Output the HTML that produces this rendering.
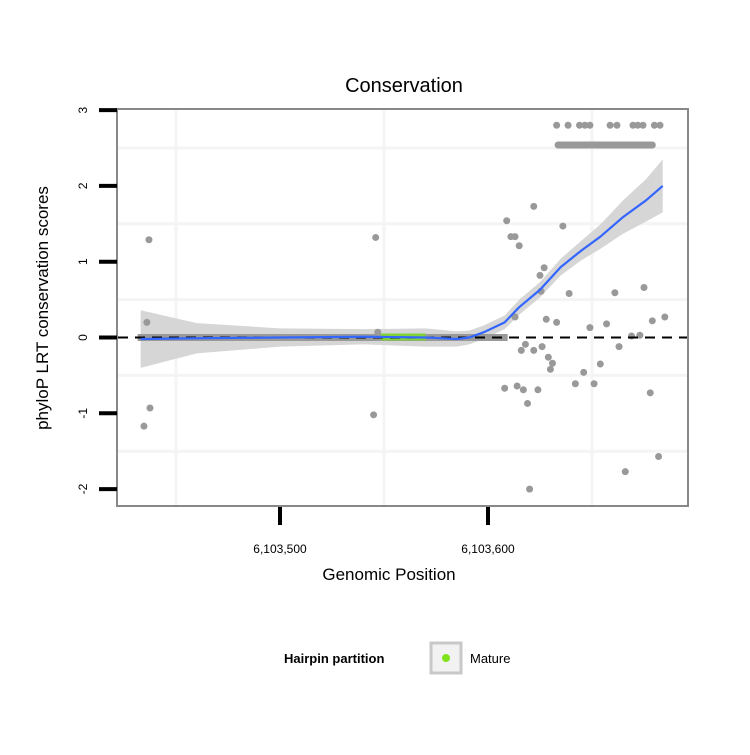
<!DOCTYPE html>
<html><head><meta charset="utf-8"><style>
body{margin:0;background:#fff;}
svg text{font-family:"Liberation Sans",sans-serif;}
</style></head><body>
<svg id="chart" width="750" height="750" xmlns="http://www.w3.org/2000/svg">
<rect width="750" height="750" fill="#fff"/>
<g id="grid"></g>
<g id="ribbon"></g>
<g id="pts"></g>
<g id="line"></g>
<rect x="117" y="109" width="571" height="397" fill="none" stroke="#888" stroke-width="2"/>
<g id="axes"></g>
<text x="404" y="92" font-size="20" text-anchor="middle">Conservation</text>
<text x="389" y="580" font-size="17" text-anchor="middle">Genomic Position</text>
<text transform="translate(48,308) rotate(-90)" font-size="17" text-anchor="middle">phyloP LRT conservation scores</text>
<g>
<text x="284" y="663" font-size="13" font-weight="bold">Hairpin partition</text>
<rect x="431" y="643" width="30" height="30" fill="#f2f2f2" stroke="#c8c8c8" stroke-width="3"/>
<circle cx="446" cy="658" r="4" fill="#7fe31a"/>
<text x="470" y="663" font-size="13">Mature</text>
</g>
</svg>
<script>
const X0=6103500;
const xTicks=[6103500,6103600];
const xTickLabels=["6,103,500","6,103,600"];
const yTicks=[-2,-1,0,1,2,3];
const ptX=[6103437,6103436,6103434,6103437.5,6103434.6,6103546,6103545,6103547,
6103622,6103609,6103611,6103613,6103615,6103636,6103627,6103625,6103625.5,6103639,6103661,6103675,6103613,6103628,6103633,6103649,6103657,6103679,6103685,6103669,6103673,6103618,6103616,6103622,6103626,6103663,6103629,6103631,6103630,6103654,6103646,6103608,6103614,6103617,6103624,6103642,6103651,6103678,6103619,6103682,6103666,6103620];
const ptY=[1.29,0.2,0.0,-0.93,-1.17,1.32,-1.02,0.07,
1.73,1.54,1.33,1.33,1.21,1.47,0.92,0.82,0.61,0.58,0.59,0.66,0.27,0.24,0.20,0.13,0.18,0.22,0.27,0.02,0.03,-0.09,-0.17,-0.17,-0.12,-0.12,-0.26,-0.34,-0.42,-0.35,-0.46,-0.67,-0.64,-0.69,-0.69,-0.61,-0.61,-0.73,-0.87,-1.57,-1.77,-2.0];
const topX=[6103633,6103638.5,6103644,6103646.6,6103649,6103658.7,6103662,6103669.7,6103672,6103674.5,6103680,6103682.7];
const row2X=[6103633.7,6103679];
const zeroX=[6103433,6103608];
const matureX=[6103548.5,6103570];
const fitX=[6103433,6103460,6103500,6103540,6103570,6103585,6103591,6103598,6103608,6103615,6103625,6103635,6103645,6103654,6103665,6103676,6103684];
const fitY=[-0.02,-0.01,0.0,0.01,0.0,-0.02,0.0,0.07,0.2,0.4,0.63,0.93,1.15,1.33,1.59,1.81,2.0];
const fitSE=[0.38,0.2,0.12,0.1,0.12,0.1,0.09,0.09,0.09,0.1,0.1,0.11,0.13,0.16,0.22,0.28,0.35];
const sx=v=>280+(v-X0)*2.08;
const sy=v=>337.5-v*75.8;
const NS="http://www.w3.org/2000/svg";
function mk(t,p,a){const e=document.createElementNS(NS,t);for(const k in a)e.setAttribute(k,a[k]);p.appendChild(e);return e;}
const g=document.getElementById('grid');
[2.5,1.5,0.5,-0.5,-1.5].forEach(v=>{const l=mk('line',g,{x1:118,x2:687,y1:sy(v),y2:sy(v),stroke:'#f4f4f4','stroke-width':3});

});
[6103450,6103550,6103650].forEach(v=>{const l=mk('line',g,{x1:sx(v),x2:sx(v),y1:110,y2:505,stroke:'#f4f4f4','stroke-width':3});

});
const rb=document.getElementById('ribbon');
let d='M'+fitX.map((x,i)=>sx(x)+','+sy(fitY[i]+fitSE[i])).join('L');
d+='L'+fitX.slice().reverse().map((x,j)=>{const i=fitX.length-1-j;return sx(x)+','+sy(fitY[i]-fitSE[i]);}).join('L')+'Z';
const rp=mk('path',rb,{d:d,fill:'#d6d6d6'});


const P=document.getElementById('pts');
const zb=mk('rect',P,{x:sx(zeroX[0])-3,y:sy(0)-3.5,width:sx(zeroX[1])-sx(zeroX[0])+6,height:7,fill:'#999'});


const mb=mk('rect',P,{x:sx(matureX[0]),y:sy(0)-4,width:sx(matureX[1])-sx(matureX[0]),height:7,fill:'#7fd13b'});


ptX.forEach((x,i)=>{const c=mk('circle',P,{cx:sx(x),cy:sy(ptY[i]),r:3.5,fill:'#999'});

});
topX.forEach(x=>{const c=mk('circle',P,{cx:sx(x),cy:sy(2.8),r:3.5,fill:'#999'});

});
const r2=mk('rect',P,{x:sx(row2X[0])-3.5,y:sy(2.54)-3.5,width:sx(row2X[1])-sx(row2X[0])+7,height:7,rx:3.5,fill:'#999'});


const L=document.getElementById('line');
const dl=mk('line',L,{x1:118,x2:687,y1:sy(0),y2:sy(0),stroke:'#000','stroke-width':2,'stroke-dasharray':'10,7'});


const fl=mk('path',L,{d:'M'+fitX.map((x,i)=>sx(x)+','+sy(fitY[i])).join('L'),fill:'none',stroke:'#3366ff','stroke-width':2.2,'stroke-linejoin':'round'});


const A=document.getElementById('axes');
yTicks.forEach(v=>{const t=mk('line',A,{x1:99,x2:117,y1:sy(v),y2:sy(v),stroke:'#000','stroke-width':4});


const tx=mk('text',A,{transform:`translate(87,${sy(v)}) rotate(-90)`,'font-size':12,'text-anchor':'middle'});
tx.textContent=v;

});
xTicks.forEach((v,i)=>{const t=mk('line',A,{x1:sx(v),x2:sx(v),y1:507,y2:525,stroke:'#000','stroke-width':4});


const tx=mk('text',A,{x:sx(v),y:553,'font-size':12,'text-anchor':'middle'});
tx.textContent=xTickLabels[i];

});
</script>
</body></html>
